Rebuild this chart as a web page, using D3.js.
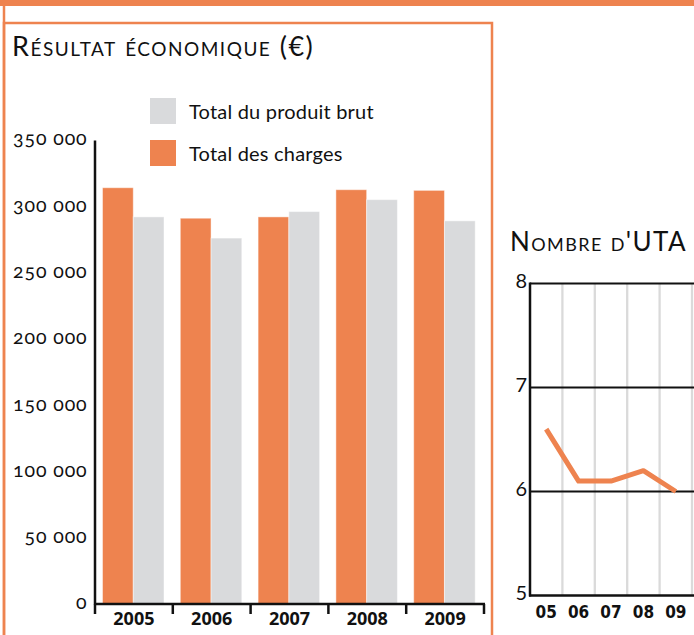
<!DOCTYPE html>
<html lang="fr">
<head>
<meta charset="UTF-8">
<title>Résultat économique et nombre d'UTA</title>
<script src="https://d3js.org/d3.v7.min.js"></script>
<style>
  body { margin: 0; background: #fff; }
  svg { display: block; }
  .title { font-family: Lato, "Open Sans", sans-serif; font-variant: small-caps; fill: #111; }
  .legend text { font-family: Lato, "Open Sans", sans-serif; font-size: 20px; fill: #111; letter-spacing: 0.2px; }
  .yaxis text { font-family: Lato, "Open Sans", sans-serif; font-size: 19.5px; fill: #111;
                font-variant-numeric: oldstyle-nums; letter-spacing: 0.9px; }
  .xlab { font-family: "Open Sans", sans-serif; font-weight: bold; font-size: 18px; fill: #111; }
  .utalab { font-family: "Liberation Sans Narrow", "DejaVu Sans Condensed", sans-serif; font-weight: bold; font-size: 17px; fill: #111; }
  .utay { font-family: Lato, "Open Sans", sans-serif; font-size: 20px; fill: #111; }
</style>
</head>
<body>
<svg width="694" height="635"></svg>
<script>
// --- data ---
const years = ["2005", "2006", "2007", "2008", "2009"];
const charges = [314000, 291000, 292000, 312500, 312000];   // Total des charges
const produit = [292000, 276000, 296000, 305000, 289000];   // Total du produit brut
const yTicks = [0, 50000, 100000, 150000, 200000, 250000, 300000, 350000];

const utaYears = ["05", "06", "07", "08", "09"];
const uta = [6.6, 6.1, 6.1, 6.2, 6.0];
const utaTicks = [5, 6, 7, 8];

const ORANGE = "#EE834F";
const GREY = "#D9DADC";

const svg = d3.select("svg");
const fr = d3.formatLocale({ decimal: ",", thousands: " ", grouping: [3], currency: ["", " €"] });
const fmt = fr.format(",");

// page frame
svg.append("rect").attr("x", 0).attr("y", 0).attr("width", 694).attr("height", 6).attr("fill", ORANGE);
svg.append("line").attr("x1", 4).attr("x2", 4).attr("y1", 0).attr("y2", 640)
  .attr("stroke", ORANGE).attr("stroke-width", 2.5);
svg.append("rect").attr("x", 4).attr("y", 23).attr("width", 488).attr("height", 640)
  .attr("fill", "none").attr("stroke", ORANGE).attr("stroke-width", 2.5);

// ---- left chart: résultat économique ----
svg.append("text").attr("class", "title").attr("x", 12).attr("y", 56)
  .style("font-size", "27px").style("letter-spacing", "1.5px").text("Résultat économique (€)");

const x0 = d3.scaleBand().domain(years).range([95, 484]).padding(0);
const x1 = d3.scaleBand().domain(["charges", "produit"]).range([7.5, 69]).padding(0);
const y = d3.scaleLinear().domain([0, 350000]).range([604, 140]);

const series = [
  { key: "charges", values: charges, color: ORANGE },
  { key: "produit", values: produit, color: GREY }
];

const groups = svg.append("g").selectAll("g")
  .data(years).enter().append("g")
  .attr("transform", d => `translate(${x0(d)},0)`);

groups.selectAll("rect")
  .data((d, i) => series.map(s => ({ key: s.key, v: s.values[i], color: s.color })))
  .enter().append("rect")
  .attr("x", d => x1(d.key))
  .attr("width", x1.bandwidth())
  .attr("y", d => y(d.v))
  .attr("height", d => y(0) - y(d.v))
  .attr("fill", d => d.color)
  .attr("stroke", "#fff").attr("stroke-opacity", 0.45).attr("stroke-width", 1);

// y axis
const yAxis = svg.append("g").attr("class", "yaxis")
  .attr("transform", "translate(94.5,0)")
  .call(d3.axisLeft(y).tickValues(yTicks).tickFormat(fmt).tickSize(0).tickPadding(7));
yAxis.select(".domain").attr("stroke", "#111").attr("stroke-width", 2.5);
yAxis.selectAll("text").attr("dy", "0.25em");

// x axis (ticks on the category boundaries)
const xg = svg.append("g");
xg.append("line").attr("x1", 94.5).attr("x2", x0.range()[1] + 1)
  .attr("y1", y(0)).attr("y2", y(0)).attr("stroke", "#111").attr("stroke-width", 2.5);
const bounds = years.map(d => x0(d)).concat([x0.range()[1]]);
xg.selectAll(".tk").data(bounds).enter().append("line")
  .attr("x1", d => d).attr("x2", d => d)
  .attr("y1", y(0)).attr("y2", y(0) + 10)
  .attr("stroke", "#111").attr("stroke-width", 2.5);
xg.selectAll(".xlab").data(years).enter().append("text")
  .attr("class", "xlab")
  .attr("x", d => x0(d) + x0.bandwidth() / 2)
  .attr("y", 625)
  .attr("text-anchor", "middle")
  .text(d => d);

// legend
const legendData = [
  { name: "Total du produit brut", color: GREY },
  { name: "Total des charges", color: ORANGE }
];
const lg = svg.append("g").attr("class", "legend");
lg.selectAll("rect").data(legendData).enter().append("rect")
  .attr("x", 150).attr("y", (d, i) => 98 + i * 42)
  .attr("width", 26).attr("height", 26).attr("fill", d => d.color);
lg.selectAll("text").data(legendData).enter().append("text")
  .attr("x", 189).attr("y", (d, i) => 119 + i * 42)
  .text(d => d.name);

// ---- right chart: nombre d'UTA ----
svg.append("text").attr("class", "title").attr("x", 510).attr("y", 251)
  .style("font-size", "26px").style("letter-spacing", "1.4px").text("Nombre d'UTA");

const ux = d3.scaleBand().domain(utaYears).range([530, 692]).padding(0);
const uy = d3.scaleLinear().domain([5, 8]).range([595.5, 283.5]);

// vertical grey grid on band edges
svg.append("g").selectAll("line")
  .data(utaYears).enter().append("line")
  .attr("x1", d => ux(d) + ux.bandwidth()).attr("x2", d => ux(d) + ux.bandwidth())
  .attr("y1", uy(8)).attr("y2", uy(5))
  .attr("stroke", "#DADADA").attr("stroke-width", 2.3);

// horizontal lines
svg.append("g").selectAll("line")
  .data(utaTicks.filter(t => t > 5)).enter().append("line")
  .attr("x1", 530).attr("x2", 694)
  .attr("y1", d => uy(d)).attr("y2", d => uy(d))
  .attr("stroke", "#111").attr("stroke-width", d => d === 6 ? 1.8 : 2.2);

// axes
svg.append("line").attr("x1", 530).attr("x2", 530).attr("y1", uy(8) - 1).attr("y2", uy(5) + 1)
  .attr("stroke", "#111").attr("stroke-width", 2.5);
svg.append("line").attr("x1", 529).attr("x2", 694).attr("y1", uy(5)).attr("y2", uy(5))
  .attr("stroke", "#111").attr("stroke-width", 2.5);

svg.append("g").selectAll("text")
  .data(utaTicks).enter().append("text")
  .attr("class", "utay")
  .attr("x", 527).attr("y", d => uy(d) + 4)
  .attr("text-anchor", "end")
  .text(d => d);

svg.append("g").selectAll("text")
  .data(utaYears).enter().append("text")
  .attr("class", "utalab")
  .attr("x", d => ux(d) + ux.bandwidth() / 2)
  .attr("y", 618)
  .attr("text-anchor", "middle")
  .text(d => d);

// line
svg.append("path")
  .datum(uta)
  .attr("fill", "none")
  .attr("stroke", ORANGE)
  .attr("stroke-width", 5)
  .attr("stroke-linejoin", "round")
  .attr("d", d3.line()
    .x((d, i) => ux(utaYears[i]) + ux.bandwidth() / 2)
    .y(d => uy(d)));
</script>
</body>
</html>
